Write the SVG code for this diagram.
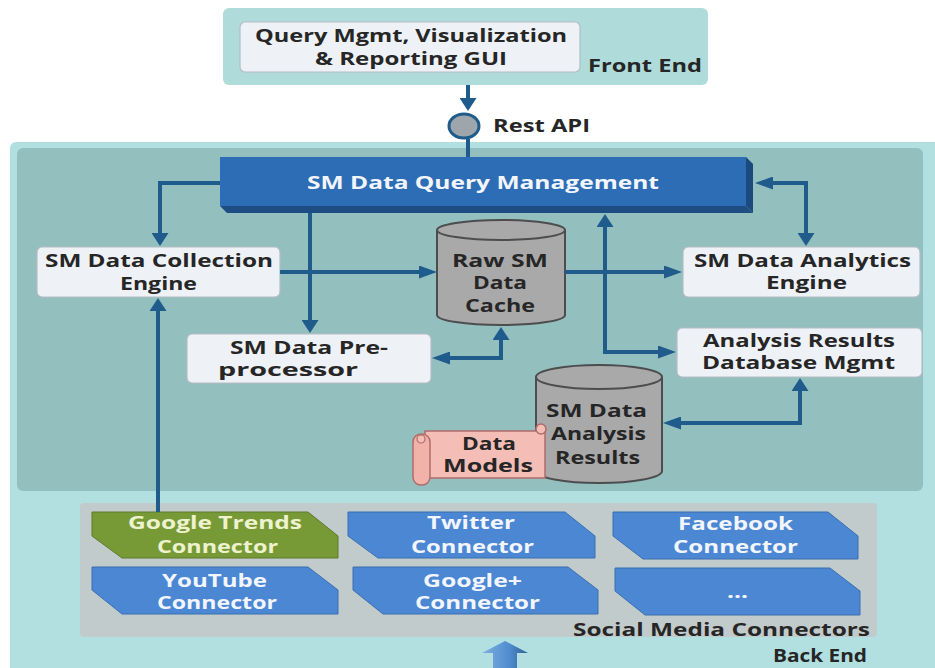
<svg xmlns="http://www.w3.org/2000/svg" width="935" height="668" viewBox="0 0 935 668">
  <defs>
    <style>
      .t { font-family: "Open Sans", "Liberation Sans", sans-serif; font-weight: bold; font-size: 17px; fill: #262626; }
      .w { fill: #f2f6fc; }
      .g { fill: #eef3cf; }
      .box { fill: #eef2f7; stroke: #b3bcc4; stroke-width: 1.2; }
      .cyl { fill: #a9a9a9; stroke: #4d4d4d; stroke-width: 2; }
      .blue { fill: #4b87d3; stroke: #3a6fb0; stroke-width: 1; }
      .green { fill: #789a36; stroke: #5d7a28; stroke-width: 1; }
      .link { fill: none; stroke: #1f5b8b; stroke-width: 4; }
    </style>
    <!-- arrowheads: horizontal ones are long and flat, vertical ones short and wide -->
    <marker id="ah" markerUnits="userSpaceOnUse" markerWidth="18" markerHeight="13" viewBox="0 0 18 13" refX="12" refY="6.5" orient="auto-start-reverse">
      <path d="M0,0 L18,6.5 L0,13 Z" fill="#1f5b8b"/>
    </marker>
    <marker id="av" markerUnits="userSpaceOnUse" markerWidth="13" markerHeight="17" viewBox="0 0 13 17" refX="9" refY="8.5" orient="auto-start-reverse">
      <path d="M0,0 L13,8.5 L0,17 Z" fill="#1f5b8b"/>
    </marker>
    <linearGradient id="bigArrow" x1="0" y1="0" x2="1" y2="0">
      <stop offset="0" stop-color="#7fb0e2"/>
      <stop offset="0.6" stop-color="#4f8ccf"/>
      <stop offset="1" stop-color="#2f5f95"/>
    </linearGradient>
  </defs>

  <rect width="935" height="668" fill="#ffffff"/>

  <!-- Front end tier -->
  <g id="front-end">
    <rect x="223" y="8" width="485" height="77" rx="6" fill="#afdcdb"/>
    <text class="t" x="588" y="72" textLength="114" lengthAdjust="spacingAndGlyphs" fill="#1f2e2e">Front End</text>
  </g>
  <g id="gui">
    <rect class="box" x="240" y="22" width="340" height="50" rx="5"/>
    <text class="t" x="255" y="42" textLength="312" lengthAdjust="spacingAndGlyphs">Query Mgmt, Visualization</text>
    <text class="t" x="315" y="65" textLength="192" lengthAdjust="spacingAndGlyphs">&amp; Reporting GUI</text>
  </g>

  <!-- Back end tier -->
  <g id="back-end">
    <rect x="10" y="142" width="935" height="540" rx="6" fill="#b2e0e0"/>
    <rect x="17" y="148" width="906" height="343" rx="6" fill="#93bfbf"/>
    <text class="t" x="773" y="662" textLength="94" lengthAdjust="spacingAndGlyphs">Back End</text>
  </g>

  <g id="rest-api">
    <ellipse cx="464" cy="126" rx="15" ry="12" fill="#9ea5ab" stroke="#1f5b8b" stroke-width="3"/>
    <text class="t" x="493" y="132" textLength="97" lengthAdjust="spacingAndGlyphs">Rest API</text>
  </g>

  <g id="query-mgmt">
    <polygon points="746,157 753,164 753,213 746,206" fill="#1b4a7e"/>
    <polygon points="220,206 746,206 753,213 227,213" fill="#1d4d82"/>
    <rect x="220" y="157" width="526" height="49" fill="#2d6db5"/>
    <text class="t w" x="307" y="189" textLength="352" lengthAdjust="spacingAndGlyphs">SM Data Query Management</text>
  </g>

  <g id="collection-engine">
    <rect class="box" x="37" y="247" width="243" height="50" rx="5"/>
    <text class="t" x="45" y="267" textLength="228" lengthAdjust="spacingAndGlyphs">SM Data Collection</text>
    <text class="t" x="120" y="290" textLength="77" lengthAdjust="spacingAndGlyphs">Engine</text>
  </g>

  <g id="preprocessor">
    <rect class="box" x="187" y="334" width="244" height="49" rx="5"/>
    <text class="t" x="230" y="354" textLength="158" lengthAdjust="spacingAndGlyphs">SM Data Pre-</text>
    <text class="t" x="218" y="376" textLength="140" lengthAdjust="spacingAndGlyphs">processor</text>
  </g>

  <g id="raw-cache">
    <path class="cyl" d="M437,230 V315 A64,10 0 0 0 565,315 V230 A64,10 0 0 0 437,230 Z"/>
    <path d="M437,230 A64,10 0 0 0 565,230" fill="none" stroke="#4d4d4d" stroke-width="2"/>
    <text class="t" x="452" y="267" textLength="96" lengthAdjust="spacingAndGlyphs">Raw SM</text>
    <text class="t" x="473" y="289" textLength="54" lengthAdjust="spacingAndGlyphs">Data</text>
    <text class="t" x="465" y="312" textLength="70" lengthAdjust="spacingAndGlyphs">Cache</text>
  </g>

  <g id="analytics-engine">
    <rect class="box" x="683" y="247" width="237" height="50" rx="5"/>
    <text class="t" x="694" y="267" textLength="217" lengthAdjust="spacingAndGlyphs">SM Data Analytics</text>
    <text class="t" x="766" y="289" textLength="81" lengthAdjust="spacingAndGlyphs">Engine</text>
  </g>

  <g id="results-db-mgmt">
    <rect class="box" x="677" y="328" width="245" height="49" rx="5"/>
    <text class="t" x="703" y="347" textLength="192" lengthAdjust="spacingAndGlyphs">Analysis Results</text>
    <text class="t" x="702" y="369" textLength="193" lengthAdjust="spacingAndGlyphs">Database Mgmt</text>
  </g>

  <g id="analysis-results">
    <path class="cyl" d="M536,377 V471 A63,12 0 0 0 662,471 V377 A63,12 0 0 0 536,377 Z"/>
    <path d="M536,377 A63,12 0 0 0 662,377" fill="none" stroke="#4d4d4d" stroke-width="2"/>
    <text class="t" x="546" y="417" textLength="101" lengthAdjust="spacingAndGlyphs">SM Data</text>
    <text class="t" x="551" y="440" textLength="95" lengthAdjust="spacingAndGlyphs">Analysis</text>
    <text class="t" x="555" y="464" textLength="85" lengthAdjust="spacingAndGlyphs">Results</text>
  </g>

  <!-- scroll-shaped note -->
  <g id="data-models">
    <rect x="425" y="431" width="120" height="47" fill="#f4bdb5" stroke="#b06c6c" stroke-width="1.5"/>
    <circle cx="541" cy="429" r="5" fill="#f4bdb5" stroke="#b06c6c" stroke-width="1.5"/>
    <rect x="413" y="434" width="17" height="51" rx="8" fill="#f2b2aa" stroke="#b06c6c" stroke-width="1.5"/>
    <circle cx="421" cy="439" r="4" fill="#f4bdb5" stroke="#b06c6c" stroke-width="1.2"/>
    <text class="t" x="462" y="450" textLength="54" lengthAdjust="spacingAndGlyphs" fill="#3a1f1f">Data</text>
    <text class="t" x="443" y="472" textLength="90" lengthAdjust="spacingAndGlyphs" fill="#3a1f1f">Models</text>
  </g>

  <!-- social media connectors -->
  <g id="connectors-panel">
    <rect x="80" y="503" width="797" height="134" rx="4" fill="#c2cbcb"/>
    <text class="t" x="573" y="636" textLength="297" lengthAdjust="spacingAndGlyphs">Social Media Connectors</text>
  </g>
  <g id="google-trends">
    <path class="green" d="M92,512 H308 L338,536 V558 H122 L92,536 Z"/>
    <text class="t g" x="128" y="529" textLength="174" lengthAdjust="spacingAndGlyphs">Google Trends</text>
    <text class="t g" x="157" y="553" textLength="121" lengthAdjust="spacingAndGlyphs">Connector</text>
  </g>
  <g id="youtube">
    <path class="blue" d="M92,567 H308 L338,590 V614 H122 L92,590 Z"/>
    <text class="t w" x="162" y="587" textLength="105" lengthAdjust="spacingAndGlyphs">YouTube</text>
    <text class="t w" x="157" y="609" textLength="120" lengthAdjust="spacingAndGlyphs">Connector</text>
  </g>
  <g id="twitter">
    <path class="blue" d="M348,512 H565 L595,536 V558 H378 L348,536 Z"/>
    <text class="t w" x="427" y="529" textLength="88" lengthAdjust="spacingAndGlyphs">Twitter</text>
    <text class="t w" x="411" y="553" textLength="123" lengthAdjust="spacingAndGlyphs">Connector</text>
  </g>
  <g id="google-plus">
    <path class="blue" d="M353,567 H568 L598,590 V614 H383 L353,590 Z"/>
    <text class="t w" x="423" y="587" textLength="99" lengthAdjust="spacingAndGlyphs">Google+</text>
    <text class="t w" x="415" y="609" textLength="125" lengthAdjust="spacingAndGlyphs">Connector</text>
  </g>
  <g id="facebook">
    <path class="blue" d="M613,512 H828 L858,536 V559 H643 L613,536 Z"/>
    <text class="t w" x="678" y="530" textLength="115" lengthAdjust="spacingAndGlyphs">Facebook</text>
    <text class="t w" x="673" y="553" textLength="125" lengthAdjust="spacingAndGlyphs">Connector</text>
  </g>
  <g id="more">
    <path class="blue" d="M615,568 H830 L860,591 V615 H645 L615,591 Z"/>
    <text class="t w" x="727" y="598" textLength="21" lengthAdjust="spacingAndGlyphs">...</text>
  </g>

  <g id="data-feed">
    <polygon points="505,641 528,653 517,653 517,668 493,668 493,653 482,653" fill="url(#bigArrow)"/>
  </g>

  <!-- connectors -->
  <g id="links">
    <path class="link" d="M468,85 V107" marker-end="url(#av)"/>
    <path class="link" d="M468,139 V157"/>
    <path class="link" d="M220,183 H160 V242" marker-end="url(#av)"/>
    <path class="link" d="M310,213 V329" marker-end="url(#av)"/>
    <path class="link" d="M280,272 H431" marker-end="url(#ah)"/>
    <path class="link" d="M565,272 H676" marker-end="url(#ah)"/>
    <path class="link" d="M761,183 H806 V242" marker-start="url(#ah)" marker-end="url(#av)"/>
    <path class="link" d="M605,218 V352 H670" marker-start="url(#av)" marker-end="url(#ah)"/>
    <path class="link" d="M438,358 H501 V331" marker-start="url(#ah)" marker-end="url(#av)"/>
    <path class="link" d="M800,382 V423 H669" marker-start="url(#av)" marker-end="url(#ah)"/>
    <path class="link" d="M158,512 V302" marker-end="url(#av)"/>
  </g>
</svg>
